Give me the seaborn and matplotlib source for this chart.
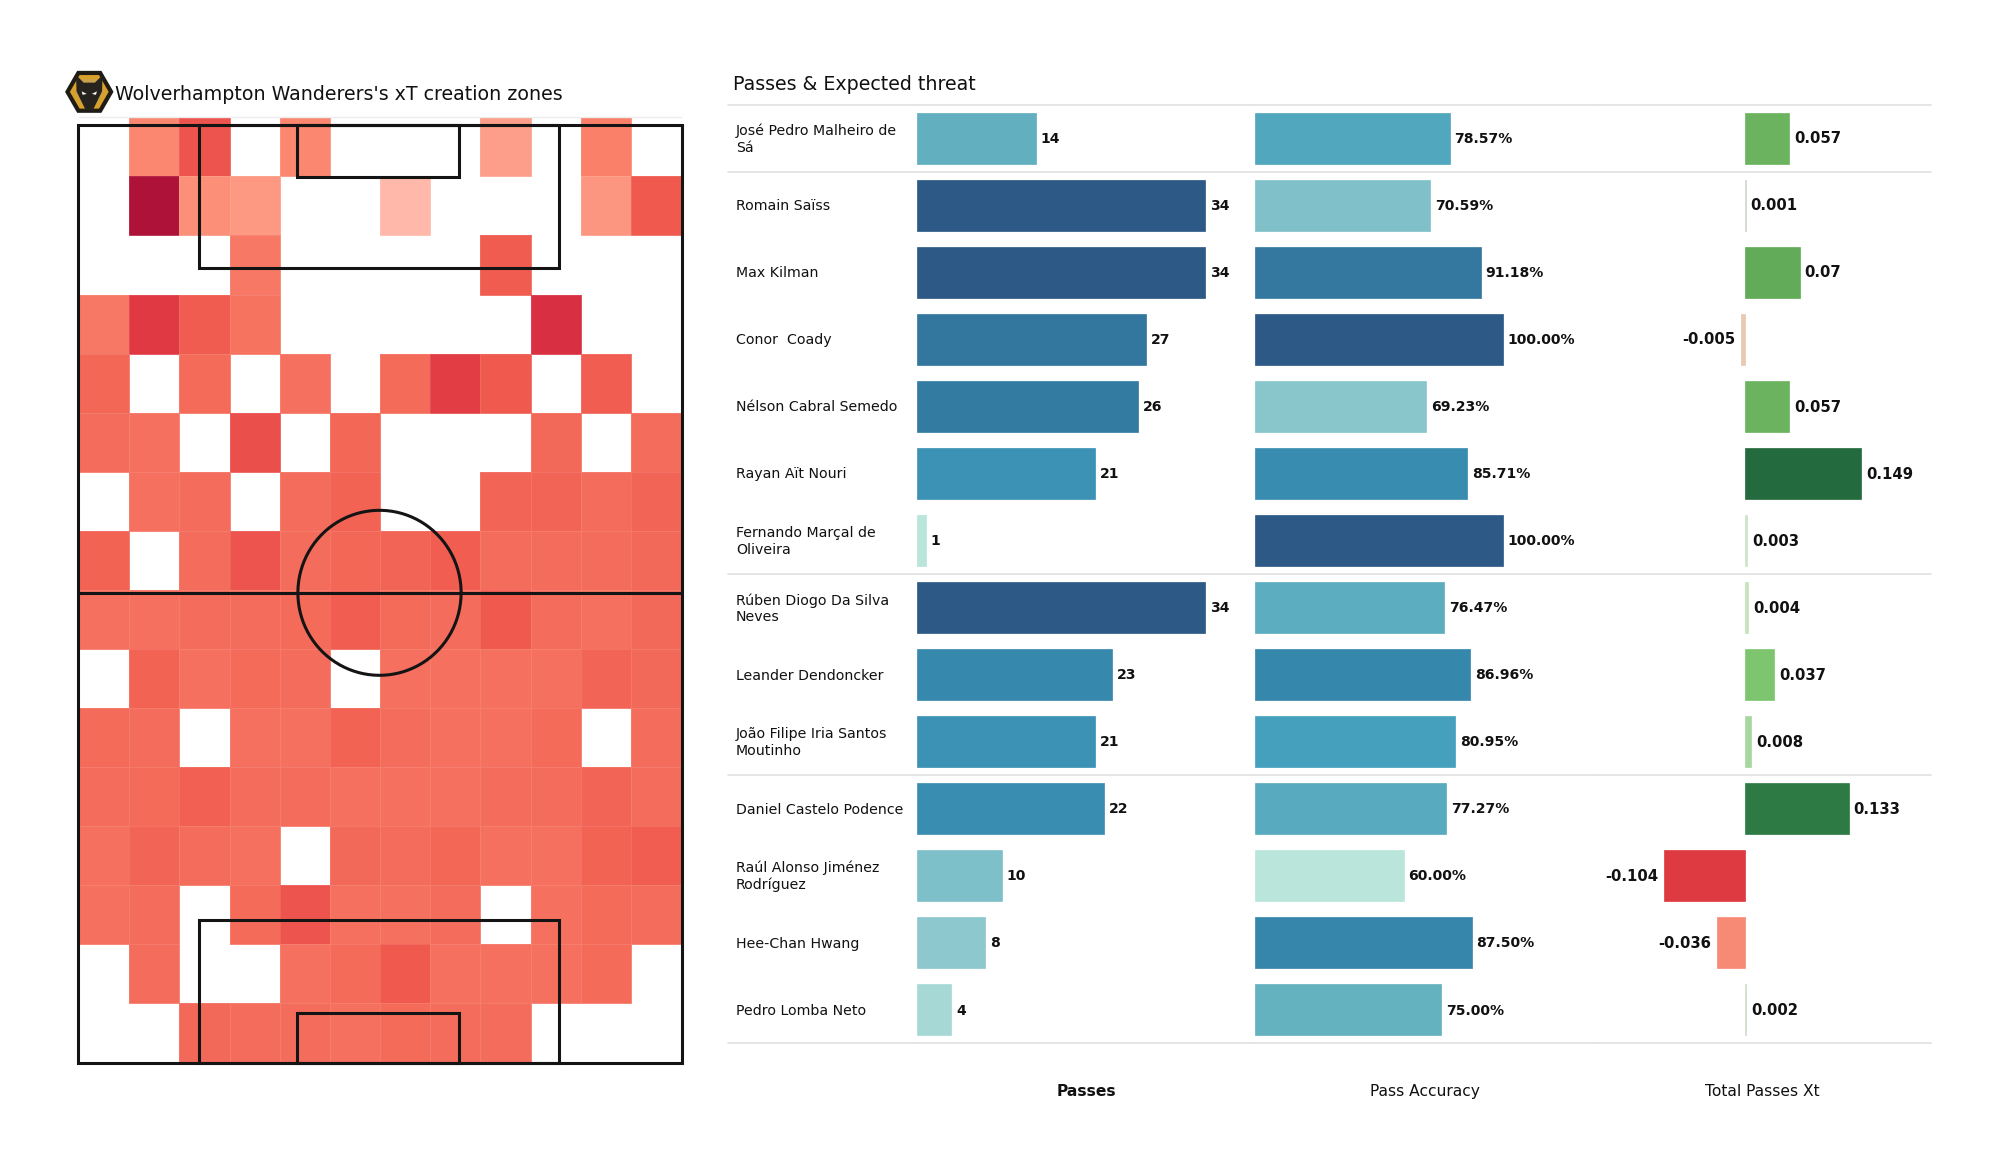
import numpy as np
import matplotlib
matplotlib.use("Agg")
import matplotlib.pyplot as plt
import seaborn as sns
from matplotlib.colors import LinearSegmentedColormap
from matplotlib.patches import Rectangle, Circle, RegularPolygon, Polygon

sns.set_theme(style="white")
plt.rcParams["font.family"] = ["DejaVu Sans"]

N = np.nan
heat_values = [
    [N, .27, .50, N, .27, N, N, N, .18, N, .30, N],
    [N, 1.0, .24, .20, N, N, .10, N, N, N, .21, .46],
    [N, N, N, .33, N, N, N, N, .45, N, N, N],
    [.33, .68, .45, .35, N, N, N, N, N, .72, N, N],
    [.40, N, .38, N, .36, N, .38, .66, .47, N, .44, N],
    [.37, .36, N, .54, N, .40, N, N, N, .39, N, .37],
    [N, .36, .37, N, .37, .42, N, N, .41, .41, .37, .41],
    [.42, N, .37, .50, .37, .40, .41, .44, .37, .37, .37, .39],
    [.36, .36, .37, .37, .38, .44, .38, .37, .46, .37, .36, .39],
    [N, .42, .36, .38, .37, N, .36, .36, .36, .36, .41, .39],
    [.38, .37, N, .36, .36, .42, .37, .36, .36, .38, N, .37],
    [.37, .38, .43, .37, .37, .36, .36, .36, .37, .37, .41, .37],
    [.36, .41, .37, .36, N, .39, .37, .40, .36, .36, .42, .44],
    [.36, .37, N, .38, .50, .36, .36, .37, N, .36, .38, .37],
    [N, .37, N, N, .36, .38, .46, .36, .36, .36, .38, N],
    [N, N, .39, .37, .37, .36, .38, .37, .37, N, N, N],
]

players = ["José Pedro Malheiro de\nSá", "Romain Saïss", "Max Kilman", "Conor  Coady",
           "Nélson Cabral Semedo", "Rayan Aït Nouri", "Fernando Marçal de\nOliveira",
           "Rúben Diogo Da Silva\nNeves", "Leander Dendoncker", "João Filipe Iria Santos\nMoutinho",
           "Daniel Castelo Podence", "Raúl Alonso Jiménez\nRodríguez", "Hee-Chan Hwang", "Pedro Lomba Neto"]
passes = [14, 34, 34, 27, 26, 21, 1, 34, 23, 21, 22, 10, 8, 4]
accuracy = [78.57, 70.59, 91.18, 100.0, 69.23, 85.71, 100.0, 76.47, 86.96, 80.95, 77.27, 60.0, 87.5, 75.0]
xt = [0.057, 0.001, 0.07, -0.005, 0.057, 0.149, 0.003, 0.004, 0.037, 0.008, 0.133, -0.104, -0.036, 0.002]
group_breaks = [1, 7, 10]

W, H = 2000, 1175
S = 2000 / 1568
fig = plt.figure(figsize=(20, 11.75), dpi=100, facecolor="white")


def axes_px(x0, y0, x1, y1):
    """Axes from shrunk-reference pixel box."""
    return fig.add_axes([x0 * S / W, 1 - y1 * S / H, (x1 - x0) * S / W, (y1 - y0) * S / H])


# ---------- heat map ----------
heat_cmap = LinearSegmentedColormap.from_list("heat", [
    (0.00, "#ffc4b8"), (0.10, "#ffb8a9"), (0.20, "#fd9882"), (0.30, "#fa8069"),
    (0.37, "#f46d5c"), (0.46, "#f05a4e"), (0.54, "#eb4f4c"), (0.68, "#e03a44"),
    (0.72, "#d92f43"), (1.00, "#ae1238")])
ax_h = axes_px(62, 92, 534, 833)
sns.heatmap(np.array(heat_values), ax=ax_h, cmap=heat_cmap, vmin=0, vmax=1, cbar=False,
            linewidths=0.4, linecolor=(1, 1, 1, 0.10), xticklabels=False, yticklabels=False)
ax_h.plot([0, 12], [0, 0], color="#ececec", lw=1.0, clip_on=False, zorder=3)

# ---------- pitch ----------
ax_p = axes_px(61, 98, 535, 833)
ax_p.set_xlim(0, 100)
ax_p.set_ylim(100, 0)
ax_p.axis("off")
ax_p.patch.set_alpha(0)
lc = "#141414"
for (x, y, w, h) in [(0, 0, 100, 100), (20, 0, 59.6, 15.2), (36.3, 0, 26.8, 5.5),
                     (20, 84.8, 59.6, 15.2), (36.3, 94.7, 26.8, 5.3)]:
    ax_p.add_patch(Rectangle((x, y), w, h, fill=False, ec=lc, lw=2.2, clip_on=False))
ax_p.plot([0, 100], [49.9, 49.9], color=lc, lw=2.2)
theta = np.linspace(0, 2 * np.pi, 200)
ax_p.plot(49.9 + 13.5 * np.cos(theta), 49.9 + 8.8 * np.sin(theta), color=lc, lw=2.2)

# ---------- badge ----------
ax_b = axes_px(50, 53, 90, 91)
ax_b.set_xlim(-1, 1)
ax_b.set_ylim(-0.95, 0.95)
ax_b.axis("off")
ax_b.add_patch(RegularPolygon((0, 0), 6, radius=0.95, orientation=np.pi / 6, fc="#1f1c16", ec="none"))
ax_b.add_patch(RegularPolygon((0, 0), 6, radius=0.76, orientation=np.pi / 6, fc="#d9a02a", ec="none"))
ax_b.add_patch(RegularPolygon((0, 0), 6, radius=0.58, orientation=np.pi / 6, fc="#c8a24a", ec="none"))
ax_b.add_patch(Polygon([[-0.52, 0.66], [-0.22, 0.36], [0.22, 0.36], [0.52, 0.66], [0.50, 0.02],
                        [0.14, -0.72], [-0.14, -0.72], [-0.50, 0.02]], fc="#26231e", ec="none"))
ax_b.add_patch(Polygon([[-0.30, 0.02], [-0.10, -0.08], [-0.26, -0.12]], fc="#f4f4f4", ec="none"))
ax_b.add_patch(Polygon([[0.30, 0.02], [0.10, -0.08], [0.26, -0.12]], fc="#f4f4f4", ec="none"))

fig.text(90 * S / W, 1 - 74 * S / H, "Wolverhampton Wanderers's xT creation zones",
         fontsize=13.7, color="#111111", va="center", ha="left")
fig.text(575 * S / W, 1 - 66 * S / H, "Passes & Expected threat",
         fontsize=13.7, color="#111111", va="center", ha="left")

# ---------- bar table ----------
bar_cmap = LinearSegmentedColormap.from_list("bars", [
    (0.00, "#b9e5da"), (0.23, "#88c6cc"), (0.39, "#61afbf"), (0.53, "#43a0bc"),
    (0.64, "#378cb0"), (0.78, "#34789f"), (1.00, "#2c5985")])


def xt_colour(v):
    nodes = [-0.104, -0.036, -0.005, 0.0, 0.003, 0.008, 0.037, 0.057, 0.07, 0.133, 0.149]
    cols = ["#de3a42", "#f78a74", "#e8c9b4", "#cfcfcf", "#cde4c6", "#a8d6a0", "#7ec56f",
            "#6bb35e", "#62ab58", "#2d7a44", "#236b3f"]
    rgb = np.array([matplotlib.colors.to_rgb(c) for c in cols])
    return tuple(np.interp(v, nodes, rgb[:, i]) for i in range(3))


def scale_colours(vals):
    lo, hi = min(vals), max(vals)
    return [bar_cmap((v - lo) / (hi - lo)) for v in vals]


sep_col = "#e0e0e0"


def finish(ax, xlim):
    ax.set_xlim(*xlim)
    ax.set_ylim(13.5, -0.5)
    ax.set_yticks([])
    ax.set_xticks([])
    ax.set_ylabel("")
    sns.despine(ax=ax, left=True, bottom=True)
    for y in [-0.5] + [b - 0.5 for b in group_breaks] + [13.5]:
        ax.plot(xlim, [y, y], color=sep_col, lw=1.2, clip_on=False, zorder=0.5)


ax_n = axes_px(571, 82, 719, 818)
finish(ax_n, (0, 148))
for i, name in enumerate(players):
    ax_n.annotate(name, (6, i), xytext=(0, -0.7), textcoords="offset points", fontsize=10.2,
                  color="#111111", va="center", ha="left", linespacing=1.22)

specs = [
    ("Passes", passes, (719, 984), (0, 265 / 6.647), [str(v) for v in passes], scale_colours(passes), "bold", 10.1),
    ("Pass Accuracy", accuracy, (984, 1250), (0, 266 / 1.94), [f"{v:.2f}%" for v in accuracy], scale_colours(accuracy), "normal", 10.1),
    ("Total Passes Xt", xt, (1250, 1514), (-118 / 612, 146 / 612), [f"{v:g}" for v in xt], [xt_colour(v) for v in xt], "normal", 10.7),
]
for title, vals, (x0, x1), xlim, labels, cols, weight, label_fs in specs:
    ax = axes_px(x0, 82, x1, 818)
    sns.barplot(x=vals, y=players, hue=players, palette=dict(zip(players, cols)), orient="h",
                width=0.76, dodge=False, legend=False, ax=ax, saturation=1)
    for patch in ax.patches:
        patch.set_edgecolor(patch.get_facecolor())
        patch.set_linewidth(0.5)
    finish(ax, xlim)
    ax.set_xlabel(title, fontsize=11.2, fontweight=weight, color="#111111", labelpad=29.5)
    for i, (v, lab) in enumerate(zip(vals, labels)):
        off = 3.6 if v >= 0 else -4.2
        ax.annotate(lab, (v, i), xytext=(off, -0.5), textcoords="offset points", fontsize=label_fs,
                    fontweight="bold", color="#111111", va="center", ha="left" if v >= 0 else "right")

fig.savefig("out.png", dpi=100, facecolor="white")
